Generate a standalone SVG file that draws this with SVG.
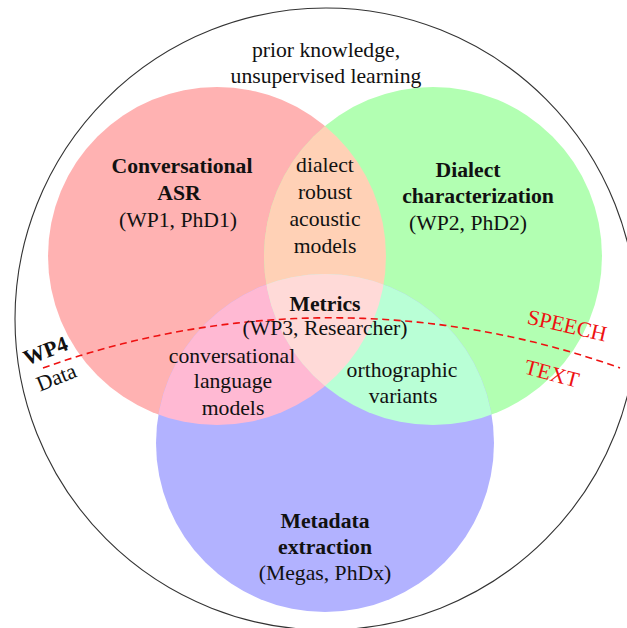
<svg xmlns="http://www.w3.org/2000/svg" width="627" height="628" viewBox="0 0 627 628">
<style>
text{font-family:"Liberation Serif","Times New Roman",serif;font-size:21.7px;fill:#111;text-anchor:middle}
.b{font-weight:bold}
.red{fill:#ee1111}
</style>
<defs>
<circle id="cR" cx="217" cy="256" r="169"/>
<circle id="cG" cx="433" cy="256" r="169"/>
<circle id="cB" cx="325" cy="443" r="169"/>
<clipPath id="clipR"><use href="#cR"/></clipPath>
<clipPath id="clipG"><use href="#cG"/></clipPath>
</defs>
<rect width="627" height="628" fill="#fff"/>
<g id="outer"><circle cx="326" cy="319" r="311" fill="none" stroke="#333" stroke-width="1.1"/></g>
<g id="sets">
<use href="#cR" fill="#ffb2b2"/>
<use href="#cG" fill="#b2ffb2"/>
<use href="#cB" fill="#b2b2ff"/>
<use href="#cG" fill="#ffd1b6" clip-path="url(#clipR)"/>
<use href="#cB" fill="#ffb9d3" clip-path="url(#clipR)"/>
<use href="#cB" fill="#b9ffd6" clip-path="url(#clipG)"/>
<g clip-path="url(#clipR)"><use href="#cB" fill="#ffdad8" clip-path="url(#clipG)"/></g>
</g>
<g id="connectors">
<path d="M43 368 A854 854 0 0 1 620 368" fill="none" stroke="#ee1111" stroke-width="1.6" stroke-dasharray="7 4.5"/>
</g>
<g id="prior"><text x="326" y="57">prior knowledge,</text><text x="326" y="83">unsupervised learning</text></g>
<g id="asr"><text class="b" x="182" y="173">Conversational</text><text class="b" x="179" y="200">ASR</text><text x="178" y="227">(WP1, PhD1)</text></g>
<g id="dialect"><text class="b" x="468" y="177">Dialect</text><text class="b" x="478" y="203">characterization</text><text x="468" y="230">(WP2, PhD2)</text></g>
<g id="metadata"><text class="b" x="325" y="528">Metadata</text><text class="b" x="325" y="554">extraction</text><text x="325" y="580">(Megas, PhDx)</text></g>
<g id="acoustic"><text x="325" y="172">dialect</text><text x="325" y="199">robust</text><text x="325" y="226">acoustic</text><text x="325" y="253">models</text></g>
<g id="metrics"><text class="b" x="325" y="311">Metrics</text><text x="325" y="335">(WP3, Researcher)</text></g>
<g id="langmodels"><text x="232" y="363">conversational</text><text x="233" y="388">language</text><text x="233" y="415">models</text></g>
<g id="ortho"><text x="402" y="377">orthographic</text><text x="403" y="403">variants</text></g>
<g id="wp4"><text class="b" transform="translate(48 357.5) rotate(-21)">WP4</text><text transform="translate(59 384) rotate(-22)">Data</text></g>
<g id="speechtext"><text class="red" transform="translate(565.5 332.5) rotate(13)">SPEECH</text><text class="red" transform="translate(550 380.5) rotate(15)">TEXT</text></g>
</svg>
